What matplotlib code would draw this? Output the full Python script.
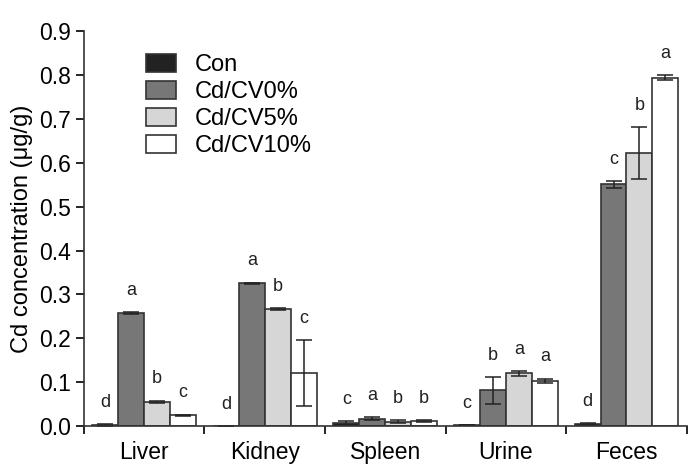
import matplotlib
matplotlib.use("Agg")
import matplotlib.pyplot as plt
import numpy as np

plt.rcParams['font.family'] = ['Liberation Sans', 'DejaVu Sans']

categories = ["Liver", "Kidney", "Spleen", "Urine", "Feces"]
series = ["Con", "Cd/CV0%", "Cd/CV5%", "Cd/CV10%"]
con = [0.003, 0.0, 0.007, 0.002, 0.004]
cv0 = [0.258, 0.325, 0.017, 0.081, 0.551]
cv5 = [0.055, 0.267, 0.010, 0.120, 0.623]
cv10 = [0.024, 0.120, 0.012, 0.103, 0.794]
con_err = [0.002, 0.0, 0.004, 0.0, 0.002]
cv0_err = [0.002, 0.002, 0.004, 0.031, 0.008]
cv5_err = [0.003, 0.002, 0.003, 0.006, 0.059]
cv10_err = [0.002, 0.075, 0.002, 0.005, 0.006]
letters = [["d", "a", "b", "c"],
           ["d", "a", "b", "c"],
           ["c", "a", "b", "b"],
           ["c", "b", "a", "a"],
           ["d", "c", "b", "a"]]

values = [con, cv0, cv5, cv10]
errors = [con_err, cv0_err, cv5_err, cv10_err]
colors = ["#222222", "#777777", "#d6d6d6", "#ffffff"]

fig = plt.figure(figsize=(6.93, 4.66), dpi=100)
ax = fig.add_axes([0.121, 0.0858, 0.870, 0.847])

n = len(categories)
centers = np.arange(n) + 0.5
w = 0.215
for i, (vals, errs, col, name) in enumerate(zip(values, errors, colors, series)):
    x = centers + (i - 1.5) * w
    ax.bar(x, vals, width=w, color=col, edgecolor="#333333", linewidth=1.2, label=name,
           yerr=errs, error_kw=dict(ecolor="#222222", elinewidth=1.1, capsize=6, capthick=1.1))
    for j in range(n):
        top = vals[j] + errs[j]
        ax.text(x[j], top + 0.03, letters[j][i], ha="center", va="bottom", fontsize=13, color="#222222")

ax.set_xlim(0, n)
ax.set_ylim(0, 0.9)
ax.set_yticks(np.arange(0, 0.91, 0.1))
ax.set_yticklabels([f"{v:.1f}" for v in np.arange(0, 0.91, 0.1)])
ax.set_xticks(np.arange(0, n + 1))
ax.set_xticklabels([])
ax.set_xticks(centers, minor=True)
ax.set_xticklabels(categories, minor=True)
ax.tick_params(axis="x", which="minor", length=0, labelsize=16.5, pad=11)
ax.tick_params(axis="x", which="major", length=6, width=1.2, direction="out")
ax.tick_params(axis="y", length=6, width=1.2, labelsize=16.5, pad=3)
for s in ["top", "right"]:
    ax.spines[s].set_visible(False)
for s in ["left", "bottom"]:
    ax.spines[s].set_linewidth(1.2)
    ax.spines[s].set_color("#333333")
ax.set_ylabel("Cd concentration (μg/g)", fontsize=17, labelpad=5)

leg = ax.legend(loc="upper left", bbox_to_anchor=(0.075, 0.985), frameon=False, fontsize=17,
                handlelength=1.3, handleheight=0.8, labelspacing=0.2, handletextpad=0.8,
                borderpad=0.2)

fig.savefig("out.png", dpi=100)
